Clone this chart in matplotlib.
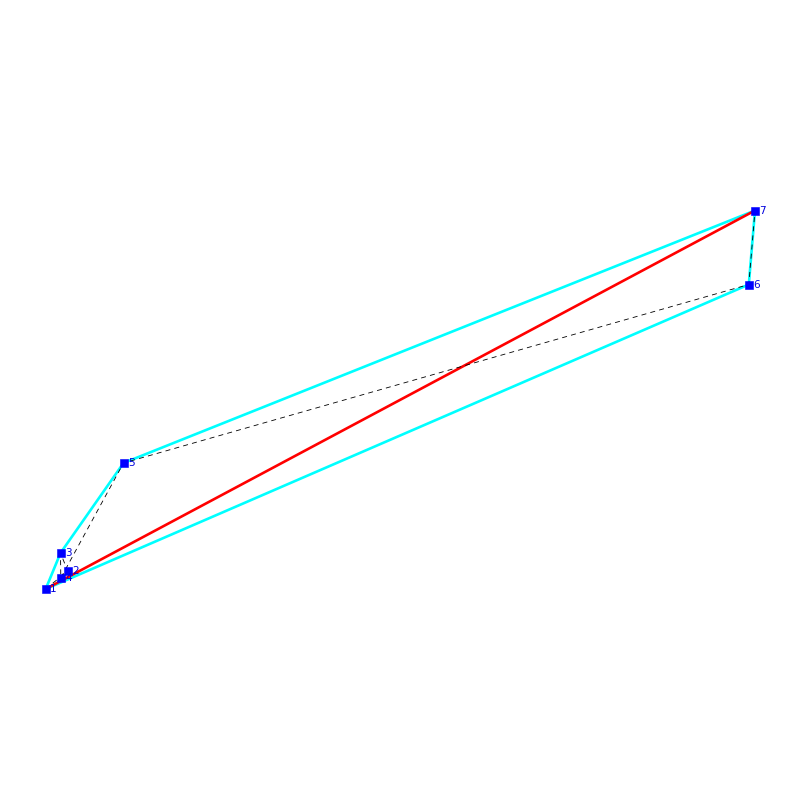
import matplotlib
matplotlib.use("Agg")
import matplotlib.pyplot as plt

x_values = [45.7, 67.7, 60.5, 60.8, 123.5, 748.8, 755.0]
y_values = [211.0, 229.0, 247.0, 222.0, 337.0, 515.5, 589.5]
point_labels = ["1", "2", "3", "4", "5", "6", "7"]
hull_order = [0, 2, 4, 6, 5, 0]
chain_order = [0, 6]

fig = plt.figure(figsize=(8, 8), dpi=100)
ax = fig.add_axes([0, 0, 1, 1])
ax.set_xlim(0, 800)
ax.set_ylim(0, 800)
ax.axis("off")

ax.plot([x_values[i] for i in hull_order], [y_values[i] for i in hull_order],
        color="#00ffff", lw=1.9, solid_joinstyle="miter", zorder=1)
ax.plot([x_values[i] for i in chain_order], [y_values[i] for i in chain_order],
        color="#ff0000", lw=1.9, zorder=2)
ax.plot(x_values, y_values, color="black", lw=0.6, dashes=(6, 5), zorder=3)
ax.plot(x_values, y_values, ls="none", marker="s", ms=5.3, mfc="#0000ff", mec="#0000ff",
        mew=0.4, antialiased=False, zorder=4)
for x, y, label in zip(x_values, y_values, point_labels):
    ax.annotate(label, (x, y), xytext=(3.3, 0), textcoords="offset points",
                color="#0000dd", fontsize=7.5, va="center", ha="left", zorder=5)

fig.savefig("out.png", dpi=100, facecolor="white")
